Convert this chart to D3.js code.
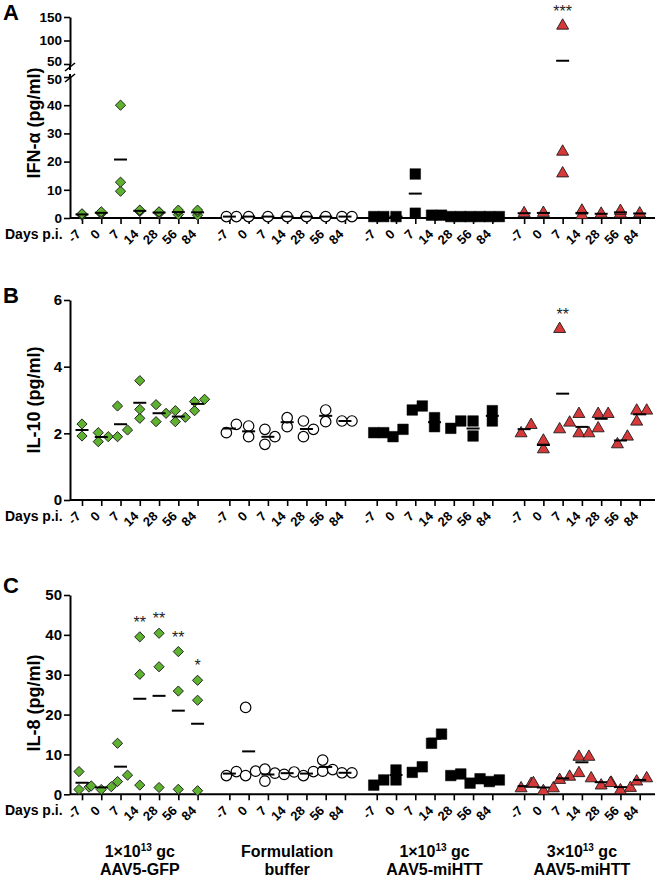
<!DOCTYPE html>
<html><head><meta charset="utf-8">
<script src="https://cdn.jsdelivr.net/npm/d3@7"></script>
<style>
body{margin:0;background:#fff}
svg{display:block}
text{font-family:"Liberation Sans",Arial,Helvetica,sans-serif}
</style>
</head><body>
<svg id="c" width="656" height="878"></svg>
<script>
// ---------- data ----------
const days = ["-7","0","7","14","28","56","84"];
const groupLine1 = ["1×10^13 gc","Formulation","1×10^13 gc","3×10^13 gc"];
const groupLine2 = ["AAV5-GFP","buffer","AAV5-miHTT","AAV5-miHTT"];

// Panel A: IFN-alpha (pg/ml), one inner list per day
const ifnGFP    = [[1.5,1.0,1.3],[2.2,1.5,1.8],[9.5,40,12.7],[2.8,2.3,2.5],[2.2,1.6,2.0],[2.8,2.3,1.2],[2.8,2.2,1.0]];
const ifnBuffer = [[0.5,0.5],[0.5],[0.5],[0.5],[0.5],[0.5],[0.5,0.5]];
const ifnLow    = [[0.5,0.5],[0.5],[15.6,1.7],[1.0,1.0],[0.5,0.5],[0.5,0.5],[0.5,0.5]];
const ifnHigh   = [[1.7],[1.8],[131.5,23.5,15.8],[2.6,1.0],[1.5],[2.5,1.5],[1.6]];
const ifnTicksLow = [0,10,20,30,40,50];
const ifnTicksHigh = [50,100,150];

// Panel B: IL-10 (pg/ml)
const il10GFP    = [[2.28,1.92],[2.02,1.9,1.75],[1.9,2.82,2.1],[2.45,3.58,2.72],[2.35,2.86,2.6],[2.68,2.48,2.35],[3.02,2.95,2.68]];
const il10Buffer = [[2.02,2.27],[2.22,1.9],[2.12,1.9,1.67],[2.47,2.2],[2.37,1.9,2.12],[2.7,2.35],[2.37,2.37]];
const il10Low    = [[2.02,2.02],[2.12,1.9],[2.7,2.82],[2.2,2.47],[2.15,2.37],[2.37,1.92],[2.37,2.68]];
const il10High   = [[2.25,2.0],[1.78,1.52],[5.13,2.12,2.32],[2.58,2.0,2.0],[2.58,2.58,2.15],[1.9,1.67],[2.68,2.35,2.68]];
const il10Ticks = [0,2,4,6];

// Panel C: IL-8 (pg/ml)
const il8GFP    = [[1.2,5.7,1.8],[2.1,1.2,1.9],[3.2,12.8,4.8],[39.5,30.1,2.3],[40.4,32.0,1.7],[35.8,25.9,1.25],[28.6,23.6,0.9]];
const il8Buffer = [[4.7,5.7],[4.7,5.8,21.8],[6.3,5.3,3.3],[5.6,5.0],[5.7,4.7],[8.6,6.2,5.8],[5.4,5.4]];
const il8Low    = [[2.3,3.6],[6.1,3.6],[5.5,6.9],[12.8,15.1],[4.7,5.1],[2.8,3.9],[3.2,3.6]];
const il8High   = [[2.6,1.5],[2.8,1.5,0.8],[4.4,3.6],[9.4,9.4,5.3],[4.0,2.9,2.2],[2.8,1.6,1.0],[4.0,3.2]];
const il8Ticks = [0,10,20,30,40,50];

// significance marks: group index, day index, label
const sigA = [{g:3,d:2,t:"***"}];
const sigB = [{g:3,d:2,t:"**"}];
const sigC = [{g:0,d:3,t:"**"},{g:0,d:4,t:"**"},{g:0,d:5,t:"**"},{g:0,d:6,t:"*"}];

// ---------- drawing ----------
const svg = d3.select("#c");
const AX = 70, AXEND = 655;
const GAP = 1.65;
const slot = (g,d) => g*(6+GAP) + d;
const x = d3.scaleLinear().domain([0, slot(3,6)]).range([82, 639.7]);
const allSlots = [];
for (let g=0; g<4; g++) for (let d=0; d<7; d++) allSlots.push(slot(g,d));

const GREEN = "#5fb130", RED = "#d6393a", EDGE = "#1c1c1c";
const markers = [
  {type:d3.symbolSquare, size:52, rot:45, fill:GREEN, stroke:EDGE, sw:0.9},
  {type:d3.symbolCircle, size:86, rot:0, fill:"#fff", stroke:"#000", sw:1.2},
  {type:d3.symbolSquare, size:112, rot:0, fill:"#000", stroke:"#000", sw:0.5},
  {type:d3.symbolTriangle, size:62, rot:0, fill:RED, stroke:EDGE, sw:0.9}
];
const S = 10;

function place(vals, yf, thr){
  const pts = vals.map(v=>({v, py:yf(v)})).sort((a,b)=>b.py-a.py);
  const cands = [0,S,-S,2*S,-2*S,3*S,-3*S];
  const placed = [];
  pts.forEach(p=>{
    for (const o of cands){
      if (!placed.some(q=>Math.abs(q.o-o)<S*0.9 && Math.abs(q.py-p.py)<thr)){ p.o=o; break; }
    }
    placed.push(p);
  });
  const mn = d3.min(pts,p=>p.o), mx = d3.max(pts,p=>p.o);
  const sh = -(mn+mx)/2*0.6;
  pts.forEach(p=>p.o+=sh);
  return pts;
}

function xAxis(axisY){
  svg.append("line").attr("x1",AX).attr("x2",AXEND).attr("y1",axisY).attr("y2",axisY)
    .attr("stroke","#000").attr("stroke-width",2);
  const g = svg.append("g").attr("transform",`translate(0,${axisY})`)
    .call(d3.axisBottom(x).tickValues(allSlots).tickSize(6).tickFormat((v,i)=>days[i%7]));
  g.select(".domain").remove();
  g.selectAll(".tick line").attr("stroke-width",1.6);
  g.selectAll(".tick text").attr("y",null).attr("dy",null)
    .attr("text-anchor","end").attr("transform","translate(-1,17) rotate(-45)")
    .attr("font-size",13).attr("font-weight","bold").attr("fill","#000")
    .style("font-family",'"Liberation Sans",Arial,sans-serif');
  svg.append("text").attr("x",5).attr("y",axisY+21).text("Days p.i.")
    .attr("font-size",14).attr("font-weight","bold");
}

function yAxis(scale, ticks, fs){
  const g = svg.append("g").attr("transform",`translate(${AX},0)`)
    .call(d3.axisLeft(scale).tickValues(ticks).tickFormat(d3.format("d"))
      .tickSize(6).tickPadding(2).tickSizeOuter(0));
  g.select(".domain").attr("stroke-width",2);
  g.selectAll(".tick line").attr("stroke-width",1.6);
  g.selectAll(".tick text").attr("font-size",fs||15).attr("font-weight","bold").attr("fill","#000")
    .style("font-family",'"Liberation Sans",Arial,sans-serif');
  return g;
}

function drawPanel(p){
  p.series.forEach((ser,gi)=>{
    const m = markers[gi];
    const sym = d3.symbol().type(m.type).size(m.size);
    ser.forEach((vals,di)=>{
      const cx = x(slot(gi,di));
      const pts = place(vals, p.y, p.thr);
      pts.forEach(pt=>{
        svg.append("path").attr("d",sym())
          .attr("transform",`translate(${cx+pt.o},${pt.py})${m.rot?` rotate(${m.rot})`:""}`)
          .attr("fill",m.fill).attr("stroke",m.stroke).attr("stroke-width",m.sw);
      });
      const my = p.y(d3.mean(vals));
      svg.append("line").attr("x1",cx-6.5).attr("x2",cx+6.5).attr("y1",my).attr("y2",my)
        .attr("stroke","#000").attr("stroke-width",2);
    });
  });
  p.sig.forEach(s=>{
    const vals = p.series[s.g][s.d];
    svg.append("text").attr("x",x(slot(s.g,s.d))).attr("y",p.y(d3.max(vals))-9)
      .attr("text-anchor","middle").attr("font-size",16).attr("fill","#222").text(s.t);
  });
  svg.append("text").attr("transform",`translate(40,${p.titleY}) rotate(-90)`)
    .attr("text-anchor","middle").attr("font-size",18).attr("font-weight","bold").text(p.title);
  svg.append("text").attr("x",3).attr("y",p.letterY).attr("font-size",22).attr("font-weight","bold").text(p.letter);
}

// Panel A (broken axis)
const yLowA = d3.scaleLinear().domain([0,50]).range([218,77]);
const yHighA = d3.scaleLinear().domain([50,150]).range([64,17]);
const yA = v => v<=50 ? yLowA(v) : yHighA(v);
const gLow = yAxis(yLowA, ifnTicksLow, 13.5);
const gHigh = yAxis(yHighA, ifnTicksHigh, 13.5);
gHigh.selectAll(".tick text").filter(d=>d===50).attr("dy","0.12em");
gLow.selectAll(".tick text").filter(d=>d===50).attr("dy","0.45em");
svg.append("line").attr("x1",AX).attr("x2",AX).attr("y1",64).attr("y2",70).attr("stroke","#000").attr("stroke-width",2);
svg.append("line").attr("x1",AX).attr("x2",AX).attr("y1",74).attr("y2",77).attr("stroke","#000").attr("stroke-width",2);
[67,78].forEach(cy=>svg.append("line").attr("x1",AX-5).attr("x2",AX+5).attr("y1",cy+4).attr("y2",cy-4)
  .attr("stroke","#000").attr("stroke-width",1.6));
xAxis(218);
drawPanel({series:[ifnGFP,ifnBuffer,ifnLow,ifnHigh], y:yA, thr:0.5, sig:sigA,
  title:"IFN-α (pg/ml)", titleY:123, letter:"A", letterY:20});

// Panel B
const yB = d3.scaleLinear().domain([0,6]).range([500,300]);
yAxis(yB, il10Ticks);
xAxis(500);
drawPanel({series:[il10GFP,il10Buffer,il10Low,il10High], y:yB, thr:8.5, sig:sigB,
  title:"IL-10 (pg/ml)", titleY:400, letter:"B", letterY:303});

// Panel C
const yC = d3.scaleLinear().domain([0,50]).range([794.3,595]);
yAxis(yC, il8Ticks);
xAxis(794.3);
drawPanel({series:[il8GFP,il8Buffer,il8Low,il8High], y:yC, thr:9.4, sig:sigC,
  title:"IL-8 (pg/ml)", titleY:703, letter:"C", letterY:593});

// group labels
groupLine1.forEach((l1,gi)=>{
  const cx = (x(slot(gi,0))+x(slot(gi,6)))/2;
  const t = svg.append("text").attr("x",cx).attr("y",857).attr("text-anchor","middle")
    .attr("font-size",16).attr("font-weight","bold");
  const parts = l1.split("^");
  if (parts.length>1){
    const m = parts[1].match(/^(\d+)(.*)$/);
    t.append("tspan").text(parts[0]);
    t.append("tspan").attr("font-size",10).attr("dy",-6).text(m[1]);
    t.append("tspan").attr("dy",6).text(m[2]);
  } else t.text(l1);
  svg.append("text").attr("x",cx).attr("y",875).attr("text-anchor","middle")
    .attr("font-size",16).attr("font-weight","bold").text(groupLine2[gi]);
});
</script>
</body></html>
